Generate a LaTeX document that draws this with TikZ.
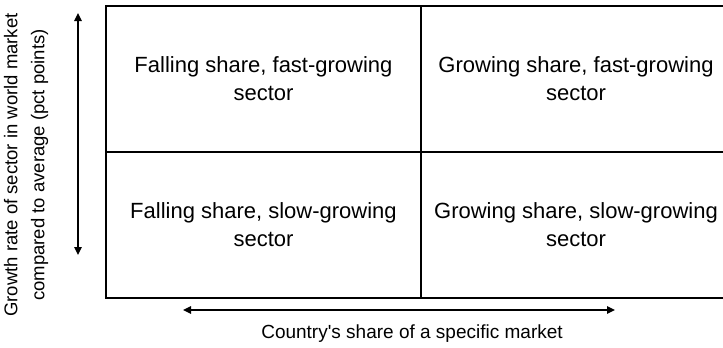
\documentclass[tikz,border=0pt]{standalone}
\usepackage{fontspec}
\setmainfont{Liberation Sans}
\usetikzlibrary{arrows.meta}

\begin{document}
\begin{tikzpicture}
[x=1pt, y=-1pt,
 cell/.style={draw, line width=2pt, minimum height=146pt, inner sep=0pt,
   align=center, font=\fontsize{22}{28}\selectfont},
 axislabel/.style={align=center, inner sep=0pt},
 twoway/.style={{Triangle[length=8pt,width=7.5pt]}-{Triangle[length=8pt,width=7.5pt]}, line width=1.4pt}]
\clip (0,0) rectangle (723,348);

\node [cell, minimum width=315pt] (fallfast) at (263.5,79) {Falling share, fast-growing\\sector};
\node [cell, minimum width=315pt] (fallslow) at (263.5,225) {Falling share, slow-growing\\sector};
\node [cell, minimum width=310pt] (growfast) at (576,79) {Growing share, fast-growing\\sector};
\node [cell, minimum width=310pt] (growslow) at (576,225) {Growing share, slow-growing\\sector};

\coordinate (vtop) at (78,13);
\coordinate (vbot) at (78,255);
\coordinate (hleft) at (183,310);
\coordinate (hright) at (615,310);
\draw [twoway] (vbot) to (vtop);
\draw [twoway] (hleft) to (hright);

\node [axislabel, rotate=90, font=\fontsize{18.5}{27}\selectfont] (growth) at (26,165)
  {Growth rate of sector in world market\\compared to average (pct points)};
\node [axislabel, anchor=base, font=\fontsize{19}{23}\selectfont] (share) at (412,338)
  {Country\textquotesingle s share of a specific market};
\end{tikzpicture}
\end{document}
